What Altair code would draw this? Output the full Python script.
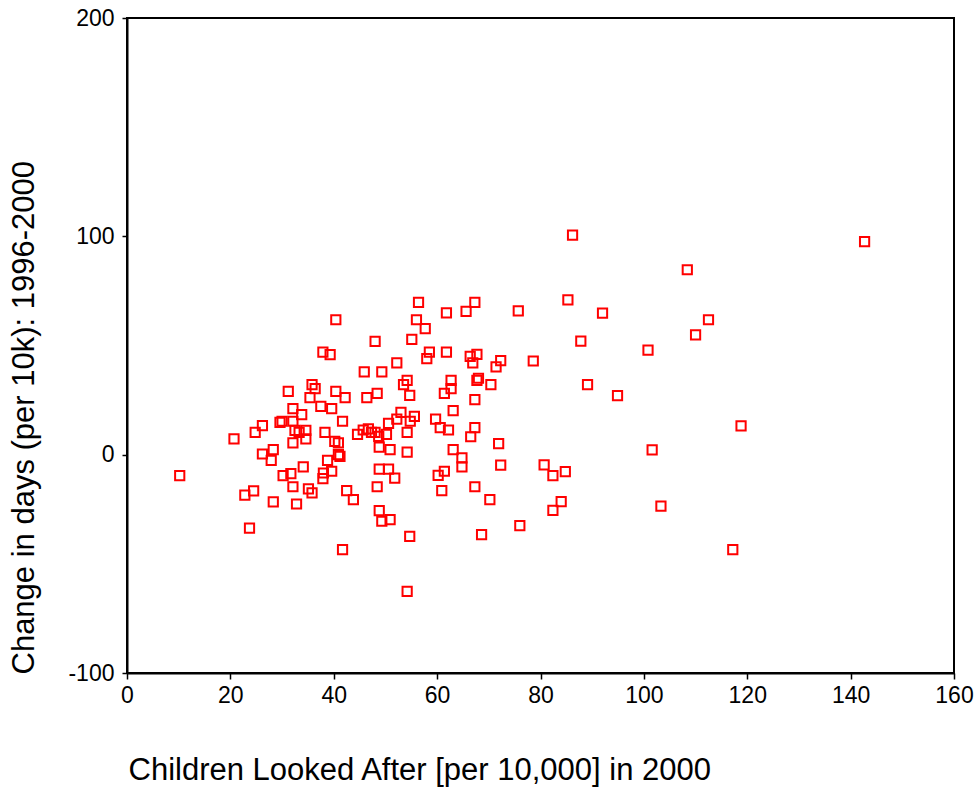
import altair as alt
import pandas as pd

# Children looked after per 10,000 in 2000 (x) and change in days per 10k, 1996-2000 (y)
looked_after = [
    10.2, 20.7, 22.8, 23.7, 24.5, 24.8, 26.2, 26.2, 27.9, 28.3,
    28.3, 29.6, 30.0, 30.2, 31.2, 31.7, 32.1, 32.1, 32.1, 32.5,
    32.1, 32.8, 33.3, 33.8, 34.1, 34.6, 34.6, 35.1, 35.4, 35.8,
    35.8, 36.4, 37.5, 37.9, 38.0, 37.9, 38.3, 38.8, 39.3, 39.6,
    39.6, 40.4, 40.4, 40.2, 40.9, 40.9, 41.2, 41.7, 41.7, 42.2,
    42.5, 43.8, 44.6, 45.7, 45.9, 46.4, 46.7, 47.3, 48.0, 48.0,
    48.4, 48.4, 48.7, 48.8, 48.8, 48.8, 49.3, 49.3, 50.2, 50.6,
    50.6, 50.9, 50.9, 51.8, 52.2, 52.2, 53.0, 53.5, 54.2, 54.2,
    54.2, 54.2, 54.7, 54.7, 54.8, 55.1, 55.6, 56.0, 56.4, 57.7,
    58.0, 58.5, 59.7, 60.2, 60.6, 60.9, 61.4, 61.4, 61.8, 61.8,
    62.2, 62.7, 62.7, 63.1, 63.1, 64.8, 64.8, 65.6, 66.4, 66.5,
    66.9, 67.3, 67.3, 67.3, 67.3, 67.7, 67.7, 68.0, 68.6, 70.2,
    70.4, 71.4, 71.9, 72.3, 72.3, 75.7, 76.0, 78.6, 80.7, 82.4,
    82.4, 84.0, 84.8, 85.3, 86.2, 87.8, 89.1, 92.0, 94.9, 100.8,
    101.6, 103.3, 108.4, 110.0, 112.5, 117.2, 118.8, 142.7,
]
change_days = [
    -9.6, 7.2, -18.5, -33.6, -16.6, 10.2, 13.3, 0.3, -2.6, 2.3,
    -21.6, 14.8, 15.3, -9.6, 29.0, -8.7, 21.1, -14.7, 5.4, 11.1,
    15.3, -22.6, 10.2, 18.3, -5.6, 11.1, 7.2, -15.7, 26.1, -17.5,
    32.1, 30.2, 22.1, 47.0, -8.4, -11.0, 10.2, -2.6, 45.8, 21.1,
    -7.6, 61.8, 29.0, 6.1, 5.4, 0.0, -0.8, -43.5, 15.3, 26.1,
    -16.5, -20.6, 9.3, 11.3, 37.9, 26.1, 11.8, 10.2, 10.2, 51.9,
    28.1, -14.7, 8.4, 3.5, -6.6, -25.6, 37.9, -30.5, 9.3, 14.3,
    -6.6, 2.3, -29.8, -10.7, 42.0, 16.3, 19.4, 32.1, 34.0, 10.2,
    1.2, -62.6, 27.2, -37.4, 15.3, 52.8, 17.5, 61.8, 69.8, 57.7,
    44.0, 47.0, 16.3, -9.5, 12.4, -16.5, -7.6, 28.1, 64.9, 47.0,
    11.3, 34.0, 30.2, 20.2, 2.3, -1.5, -5.6, 65.6, 45.0, 8.2,
    42.0, 69.8, 25.2, 12.4, -14.7, 45.9, 34.0, 35.0, -36.6, -20.6,
    32.1, 40.2, 5.1, 43.1, -4.8, 65.9, -32.5, 42.9, -4.7, -9.6,
    -25.5, -21.5, -7.8, 70.9, 100.6, 52.0, 32.1, 64.8, 27.0, 47.9,
    2.2, -23.6, 84.7, 54.9, 61.8, -43.5, 13.2, 97.6,
]

x_ticks = [0, 20, 40, 60, 80, 100, 120, 140, 160]
y_ticks = [-100, 0, 100, 200]

df = pd.DataFrame({"looked_after": looked_after, "change": change_days})

FONT = "Liberation Sans"

points = alt.Chart(df).mark_point(
    shape="square",
    filled=False,
    color="#ff0000",
    strokeWidth=2,
    size=85,
    opacity=1,
).encode(
    x=alt.X(
        "looked_after:Q",
        scale=alt.Scale(domain=[0, 160], nice=False, zero=False),
        axis=alt.Axis(
            values=x_ticks,
            labelExpr="toString(datum.value)",
            title="Children Looked After [per 10,000] in 2000",
            titleFont=FONT,
            titleFontSize=31,
            titleFontWeight="normal",
            titleColor="black",
            titleAnchor="start",
            titleAlign="left",
            titleBaseline="alphabetic",
            titleX=1,
            titleY=106,
            labelFont=FONT,
            labelFontSize=23,
            labelColor="black",
            labelPadding=5,
            labelFlush=False,
            tickSize=6,
            tickColor="black",
            tickWidth=1.5,
            domainColor="black",
            domainWidth=2,
            grid=False,
        ),
    ),
    y=alt.Y(
        "change:Q",
        scale=alt.Scale(domain=[-100, 200], nice=False, zero=False),
        axis=alt.Axis(
            values=y_ticks,
            labelExpr="toString(datum.value)",
            title="Change in days (per 10k): 1996-2000",
            titleFont=FONT,
            titleFontSize=31,
            titleFontWeight="normal",
            titleColor="black",
            titleAngle=270,
            titleAlign="left",
            titleBaseline="alphabetic",
            titleX=-94,
            titleY=656,
            labelFont=FONT,
            labelFontSize=23,
            labelColor="black",
            labelPadding=8,
            labelFlush=False,
            tickSize=5,
            tickColor="black",
            tickWidth=1.5,
            domainColor="black",
            domainWidth=2,
            grid=False,
        ),
    ),
)

chart = points.properties(
    width=827,
    height=655,
    autosize=alt.AutoSizeParams(type="none"),
    padding={"left": 127, "top": 18, "right": 22, "bottom": 114},
    background="white",
).configure_view(
    stroke="black",
    strokeWidth=2,
)

chart.save("out.html", embed_options={"renderer": "svg", "actions": False})
